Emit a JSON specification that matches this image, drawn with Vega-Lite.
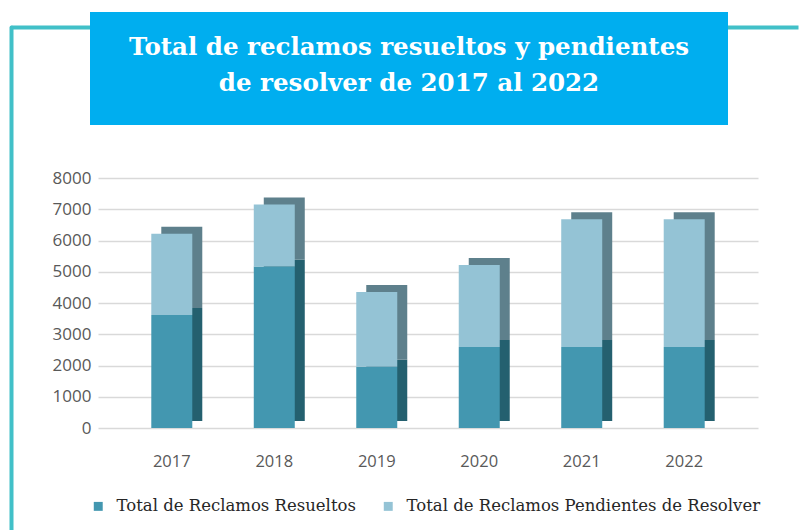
{
  "$schema": "https://vega.github.io/schema/vega-lite/v6.json",
  "background": "white",
  "padding": {"left": 11, "top": 12, "right": 1, "bottom": 0},
  "autosize": {"type": "pad"},
  "config": {"view": {"stroke": null}},
  "width": 787,
  "height": 503,
  "datasets": {
    "reclamos": [
      {"anio": "2017", "serie": "Total de Reclamos Resueltos", "orden": 1, "valor": 3620},
      {"anio": "2017", "serie": "Total de Reclamos Pendientes de Resolver", "orden": 2, "valor": 2600},
      {"anio": "2018", "serie": "Total de Reclamos Resueltos", "orden": 1, "valor": 5170},
      {"anio": "2018", "serie": "Total de Reclamos Pendientes de Resolver", "orden": 2, "valor": 1980},
      {"anio": "2019", "serie": "Total de Reclamos Resueltos", "orden": 1, "valor": 1960},
      {"anio": "2019", "serie": "Total de Reclamos Pendientes de Resolver", "orden": 2, "valor": 2390},
      {"anio": "2020", "serie": "Total de Reclamos Resueltos", "orden": 1, "valor": 2590},
      {"anio": "2020", "serie": "Total de Reclamos Pendientes de Resolver", "orden": 2, "valor": 2630},
      {"anio": "2021", "serie": "Total de Reclamos Resueltos", "orden": 1, "valor": 2590},
      {"anio": "2021", "serie": "Total de Reclamos Pendientes de Resolver", "orden": 2, "valor": 4090},
      {"anio": "2022", "serie": "Total de Reclamos Resueltos", "orden": 1, "valor": 2590},
      {"anio": "2022", "serie": "Total de Reclamos Pendientes de Resolver", "orden": 2, "valor": 4090}
    ],
    "titulo": [
      {"caja": "titulo"}
    ]
  },
  "resolve": {"scale": {"x": "independent", "y": "independent"}, "axis": {"x": "independent", "y": "independent"}},
  "layer": [
    {
      "data": {"name": "reclamos"},
      "mark": {"type": "point", "opacity": 0},
      "encoding": {
        "x": {"field": "valor", "type": "quantitative", "axis": {"orient": "top", "domain": true, "domainColor": "#41c0c8", "domainWidth": 4, "domainCap": "butt", "ticks": false, "labels": false, "grid": false, "title": null}},
        "y": {"field": "valor", "type": "quantitative", "axis": {"orient": "left", "domain": true, "domainColor": "#41c0c8", "domainWidth": 4, "domainCap": "round", "ticks": false, "labels": false, "grid": false, "title": null}}
      }
    },
    {
      "data": {"name": "titulo"},
      "layer": [
        {
          "mark": {"type": "rect", "color": "#00aeef"},
          "encoding": {
            "x": {"field": "caja", "type": "nominal", "scale": {"range": [79, 717], "paddingInner": 0, "paddingOuter": 0}, "axis": null},
            "y": {"field": "caja", "type": "nominal", "scale": {"range": [-15, 98], "paddingInner": 0, "paddingOuter": 0}, "axis": null}
          }
        },
        {
          "mark": {"type": "text", "color": "white", "font": "DejaVu Serif", "fontWeight": "bold", "fontSize": 24.5, "lineHeight": 36, "align": "center", "baseline": "middle", "dy": -21, "text": ["Total de reclamos resueltos y pendientes", "de resolver de 2017 al 2022"]},
          "encoding": {
            "x": {"field": "caja", "type": "nominal", "scale": {"range": [79, 717], "paddingInner": 0, "paddingOuter": 0}, "axis": null},
            "y": {"field": "caja", "type": "nominal", "scale": {"range": [-15, 98], "paddingInner": 0, "paddingOuter": 0}, "axis": null}
          }
        }
      ]
    },
    {
      "data": {"name": "reclamos"},
      "layer": [
        {
          "mark": {"type": "bar", "xOffset": 10, "yOffset": -7, "y2Offset": -7},
          "encoding": {
            "x": {"field": "anio", "type": "nominal", "scale": {"range": [87, 747], "paddingInner": 0.6, "paddingOuter": 0.52},
              "axis": {"orient": "bottom", "offset": -83, "domain": false, "ticks": false, "labelPadding": 6, "labelAngle": 0, "labelFont": "Open Sans", "labelFontSize": 16.5, "labelColor": "#595959", "title": null, "grid": false}},
            "y": {"field": "valor", "type": "quantitative", "stack": "zero", "scale": {"domain": [0, 8000], "range": [401, 151], "nice": false, "zero": true},
              "axis": {"orient": "left", "offset": -84, "values": [0, 1000, 2000, 3000, 4000, 5000, 6000, 7000, 8000], "format": "d", "domain": false, "ticks": false, "tickSize": 0, "labelPadding": 4, "grid": true, "gridColor": "#d9d9d9", "gridWidth": 1.5, "labelFont": "Open Sans", "labelFontSize": 17, "labelColor": "#595959", "title": null}},
            "fill": {"field": "orden", "type": "ordinal", "scale": {"domain": [1, 2], "range": ["#24606f", "#5e808c"]}, "legend": null},
            "order": {"field": "orden", "type": "quantitative"}
          }
        },
        {
          "mark": {"type": "bar"},
          "encoding": {
            "x": {"field": "anio", "type": "nominal", "scale": {"range": [87, 747], "paddingInner": 0.6, "paddingOuter": 0.52},
              "axis": {"orient": "bottom", "offset": -83, "domain": false, "ticks": false, "labelPadding": 6, "labelAngle": 0, "labelFont": "Open Sans", "labelFontSize": 16.5, "labelColor": "#595959", "title": null, "grid": false}},
            "y": {"field": "valor", "type": "quantitative", "stack": "zero", "scale": {"domain": [0, 8000], "range": [401, 151], "nice": false, "zero": true},
              "axis": {"orient": "left", "offset": -84, "values": [0, 1000, 2000, 3000, 4000, 5000, 6000, 7000, 8000], "format": "d", "domain": false, "ticks": false, "tickSize": 0, "labelPadding": 4, "grid": true, "gridColor": "#d9d9d9", "gridWidth": 1.5, "labelFont": "Open Sans", "labelFontSize": 17, "labelColor": "#595959", "title": null}},
            "color": {"field": "serie", "type": "nominal", "scale": {"domain": ["Total de Reclamos Resueltos", "Total de Reclamos Pendientes de Resolver"], "range": ["#4397b0", "#94c3d5"]},
              "legend": {"title": null, "orient": "none", "legendX": 79, "legendY": 471, "direction": "horizontal", "columns": 2, "symbolType": "square", "symbolSize": 80, "symbolStrokeWidth": 0, "labelFont": "DejaVu Serif", "labelFontSize": 16.5, "labelColor": "#262626", "labelLimit": 500, "labelOffset": 10, "columnPadding": 24}},
            "order": {"field": "orden", "type": "quantitative"}
          }
        }
      ]
    }
  ]
}
